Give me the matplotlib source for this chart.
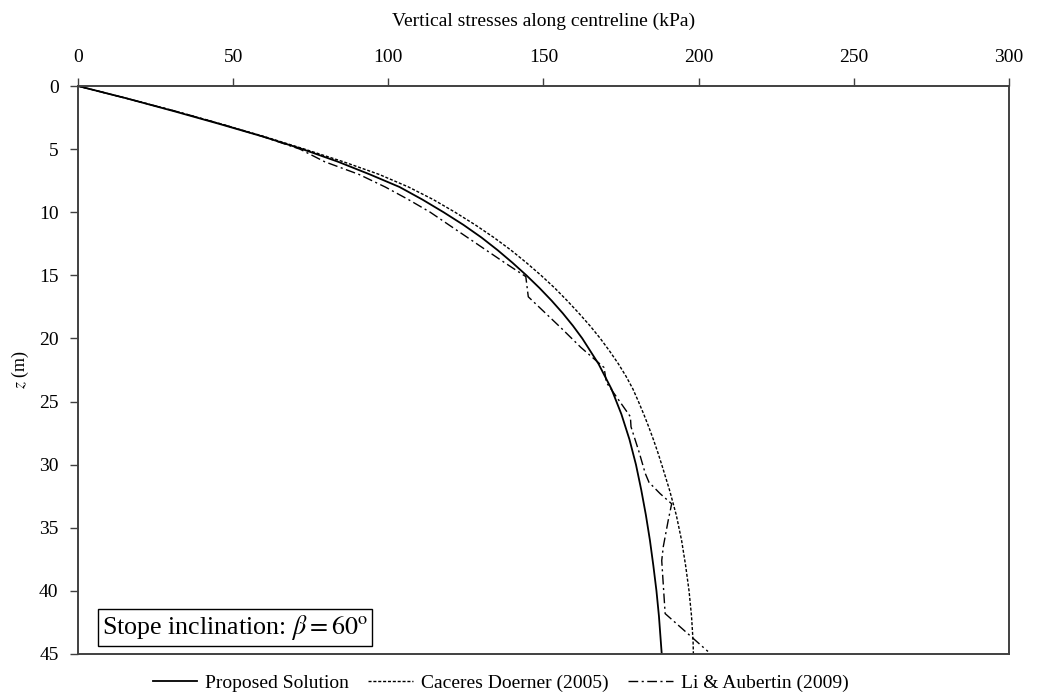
import matplotlib
matplotlib.use('Agg')
import matplotlib.pyplot as plt
from matplotlib.lines import Line2D

plt.rcParams['font.family'] = ['Liberation Serif', 'DejaVu Serif']
plt.rcParams['mathtext.fontset'] = 'stix'

# depths (m) and vertical stresses (kPa)
z_prop = [0, 1, 2, 3, 4, 5, 6, 7, 8, 9, 10, 11, 12, 13, 14, 15, 16, 17, 18,
          19, 20, 22, 24, 26, 28, 30, 32, 34, 36, 38, 40, 42, 44, 45]
s_prop = [0, 16, 31, 45.5, 59.5, 72.3, 83.8, 94, 103.6, 111, 117.8, 124.2,
          130, 135.2, 140, 144.5, 148.7, 152.6, 156.2, 159.5, 162.5, 167.7,
          171.9, 175.1, 177.7, 179.8, 181.5, 183.0, 184.3, 185.4, 186.4, 187.2,
          187.8, 188.1]

z_cac = [0, 1, 2, 3, 4, 5, 6, 7, 8, 9, 10, 11, 12, 13, 14, 15, 16, 17, 18,
         19, 20, 21, 22, 23, 24, 25, 26, 27, 28, 29, 30, 32, 34, 36, 38, 40,
         42, 44, 45]
s_cac = [0, 16, 31.5, 46, 60, 73, 85.5, 97, 106.5, 114.5, 121.5, 128, 134,
         139.5, 144.5, 149.2, 153.6, 157.6, 161.4, 165, 168.3, 171.3, 174.1,
         176.6, 178.8, 180.6, 182.3, 183.9, 185.4, 186.8, 188.1, 190.6, 192.8,
         194.5, 195.8, 196.9, 197.7, 198.2, 198.3]

z_li = [0, 1, 2, 3, 4, 5, 6, 7, 8, 9, 10, 11, 12, 13, 14, 15.1, 16.7, 19.2,
        20.7, 22.3, 23.5, 26.2, 27, 29, 30.7, 31.4, 32.3, 33.1, 34.4, 36.5,
        37.6, 41.8, 44.8]
s_li = [0, 16, 31.5, 46, 59.5, 71.5, 79.5, 90.5, 99, 106.5, 113.5, 119.5,
        125.5, 131.5, 137.5, 144.3, 145.1, 155.8, 162, 169.5, 170.3, 178,
        178.2, 180.8, 182.8, 184, 187.6, 191.3, 190.2, 188.6, 188.1, 189.2,
        203]

x_ticks = [0, 50, 100, 150, 200, 250, 300]
y_ticks = [0, 5, 10, 15, 20, 25, 30, 35, 40, 45]

dotted = (0, (2.2, 1.3))
dashdot = (0, (7, 2.5, 1.5, 2.5))

fig = plt.figure(figsize=(10.37, 6.97), dpi=100)
ax = fig.add_axes([0.0752, 0.0617, 0.8978, 0.8149])

ax.plot(s_prop, z_prop, color='black', lw=1.3, ls='-')
ax.plot(s_cac, z_cac, color='black', lw=1.0, ls=dotted)
ax.plot(s_li, z_li, color='black', lw=1.0, ls=dashdot)

ax.set_xlim(0, 300)
ax.set_ylim(45, 0)
ax.xaxis.tick_top()
ax.xaxis.set_label_position('top')
ax.set_xticks(x_ticks)
ax.set_yticks(y_ticks)
ax.tick_params(direction='out', length=6, width=1, color='#404040', labelsize=14)
ax.tick_params(axis='x', pad=8.5)
ax.tick_params(axis='y', pad=8)
for sp in ax.spines.values():
    sp.set_color('#404040')
    sp.set_linewidth(1.4)

ax.set_xlabel('Vertical stresses along centreline (kPa)', fontsize=14, labelpad=16.5)
ax.set_ylabel('$z$ (m)', fontsize=13, labelpad=6)

ax.text(0.026, 0.047, r'Stope inclination: $\beta = 60^{\mathrm{o}}$',
        transform=ax.transAxes, fontsize=18.7, ha='left', va='center',
        bbox=dict(boxstyle='square,pad=0.15', fc='white', ec='black', lw=1))

handles = [Line2D([], [], color='black', lw=1.3, ls='-'),
           Line2D([], [], color='black', lw=1.0, ls=dotted),
           Line2D([], [], color='black', lw=1.0, ls=dashdot)]
labels = ['Proposed Solution', 'Caceres Doerner (2005)', 'Li & Aubertin (2009)']
fig.legend(handles, labels, loc='center', bbox_to_anchor=(500.5 / 1037, 1 - 683 / 697),
           ncol=3, frameon=False, fontsize=14, handlelength=2.3,
           handletextpad=0.4, columnspacing=1.0)

fig.savefig('out.png', dpi=100)
